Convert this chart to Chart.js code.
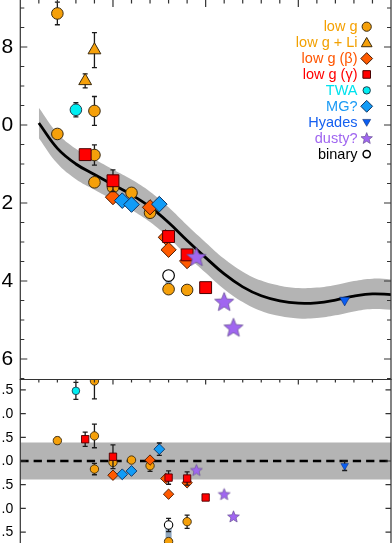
<!DOCTYPE html>
<html><head><meta charset="utf-8">
<script src="https://cdn.jsdelivr.net/npm/chart.js@4.4.1/dist/chart.umd.min.js"></script>
<style>
html,body{margin:0;padding:0;background:#fff;overflow:hidden;}
#wrap{position:relative;width:392px;height:543px;background:#fff;}
#c1{position:absolute;left:0;top:0;}
#c2{position:absolute;left:0;top:379px;}
</style></head><body>
<div id="wrap">
<canvas id="c1" width="392" height="380"></canvas>
<canvas id="c2" width="392" height="164"></canvas>
</div>
<script>
// ---------------- DATA ----------------
// tick labels (values; only the visible last part of each label is shown)
const topYLabels   = [8, 10, 12, 14, 16];
const residYLabels = [1.5, 1.0, 0.5, 0.0, -0.5, -1.0, -1.5];

// fitted relation (spectral-type index vs absolute magnitude)
const fitX   = [1, 2, 3, 4, 5, 6, 7, 8, 9, 10, 11, 12, 13, 14, 15, 16, 17, 18, 19, 20];
const fitMag = [9.95, 10.60, 11.00, 11.27, 11.53, 11.79, 12.10, 12.50, 12.96, 13.40,
                13.82, 14.15, 14.38, 14.51, 14.57, 14.56, 14.49, 14.39, 14.33, 14.35];
const fitScatter = 0.39;

// top panel: absolute magnitudes
const lowG_x    = [2, 2, 4, 4, 4, 5, 6, 7, 8, 9];
const lowG_mag  = [7.14, 10.23, 9.64, 10.77, 11.47, 11.60, 11.74, 12.25, 14.21, 14.23];
const lowG_err  = [0.29, 0, 0.37, 0.26, 0, 0, 0, 0, 0, 0];
const lowGLi_x   = [3.5, 4];
const lowGLi_mag = [8.87, 8.08];
const lowGLi_err = [0.18, 0.45];
const beta_x   = [5, 7, 7.85, 8, 9];
const beta_mag = [11.85, 12.11, 12.88, 13.20, 13.49];
const gamma_x   = [3.5, 5, 8, 9, 10];
const gamma_mag = [10.76, 11.43, 12.86, 13.33, 14.17];
const gamma_err = [0, 0.28, 0, 0, 0];
const twa_x   = [3];
const twa_mag = [9.61];
const twa_err = [0.18];
const mg_x   = [5.5, 6, 7.5];
const mg_mag = [11.94, 12.04, 12.03];
const hyades_x   = [17.5];
const hyades_mag = [14.49];
const dusty_x   = [9.5, 11, 11.5];
const dusty_mag = [13.38, 14.53, 15.19];
const binary_x   = [8];
const binary_mag = [13.86];
const binaryPair_x   = [8, 8];
const binaryPair_mag = [13.86, 14.21];

// bottom panel: residuals
const lowG_rx   = [2, 4, 4, 4, 5, 6, 7, 8, 9];
const lowG_res  = [0.43, 1.69, 0.53, -0.17, -0.03, 0.02, -0.10, -1.70, -1.28];
const lowG_rerr = [0.07, 0.38, 0.25, 0.12, 0, 0, 0.12, 0, 0.14];
const beta_rx  = [5, 7, 7.85, 8, 9];
const beta_res = [-0.30, 0.02, -0.37, -0.70, -0.46];
const gamma_rx   = [3.5, 5, 8, 9, 10];
const gamma_res  = [0.46, 0.09, -0.35, -0.37, -0.77];
const gamma_rerr = [0.15, 0.25, 0.14, 0.14, 0];
const twa_rx   = [3];
const twa_res  = [1.48];
const twa_rerr = [0.18];
const mg_rx   = [5.5, 6, 7.5];
const mg_res  = [-0.28, -0.21, 0.25];
const mg_rerr = [0, 0, 0.13];
const hyades_rx   = [17.5];
const hyades_res  = [-0.10];
const hyades_rerr = [0.10];
const dusty_rx  = [9.5, 11, 11.5];
const dusty_res = [-0.19, -0.70, -1.17];
const binary_rx   = [8];
const binary_res  = [-1.35];
const binary_rerr = [0.14];
const binaryPair_rx  = [8, 8];
const binaryPair_res = [-1.35, -1.70];

const legendLabels = ['low g', 'low g + Li', 'low g (\u03B2)', 'low g (\u03B3)', 'TWA', 'MG?', 'Hyades', 'dusty?', 'binary'];

// ---------------- STYLE ----------------
const FONT = "'Liberation Sans', Arial, Helvetica, sans-serif";
const AX = '#333';
const C = {
  lowG: '#f5a00a', beta: '#ff5a00', gamma: '#ff0000', twa: '#00eef2',
  mg: '#129cf7', hyades: '#0a5ef2', dusty: '#a066f0', band: '#b4b4b4', link: '#8ea6be'
};
const legendColors = ['#f5a000', '#f2a000', '#ff5500', '#ff0000', '#00e2ee', '#1a9af5', '#1560f0', '#a066f0', '#000000'];

function pts(xs, ys) { return xs.map((x, i) => ({ x: x, y: ys[i] })); }

function starImg(R, fill, stroke, lw) {
  const s = Math.ceil(2 * R + 4);
  const c = document.createElement('canvas');
  c.width = s; c.height = s;
  const g = c.getContext('2d');
  const cx = s / 2, cy = s / 2 + R * 0.08;
  g.beginPath();
  for (let i = 0; i < 10; i++) {
    const r = (i % 2) ? R * 0.44 : R;
    const a = -Math.PI / 2 + i * Math.PI / 5;
    g.lineTo(cx + r * Math.cos(a), cy + r * Math.sin(a));
  }
  g.closePath();
  g.fillStyle = fill; g.fill();
  g.lineWidth = lw; g.strokeStyle = stroke; g.stroke();
  return c;
}
const starTop = starImg(10, C.dusty, '#6a5296', 0.8);
const starBot = starImg(6.2, C.dusty, '#6a5296', 0.7);

function markers(xs, ys, errs, st, order) {
  return {
    data: pts(xs, ys), errs: errs, showLine: false, order: order, clip: 0,
    pointStyle: st.style, pointRadius: st.r, pointRotation: st.rot || 0,
    pointBackgroundColor: st.fill, pointBorderColor: st.edge,
    pointBorderWidth: st.bw === undefined ? 1 : st.bw
  };
}
function lineDs(xs, ys, opts) {
  return Object.assign({ data: pts(xs, ys), showLine: true, pointRadius: 0, borderWidth: 0, fill: false, tension: 0 }, opts);
}

// error bars, drawn just before each dataset's markers
const errPlugin = {
  id: 'errbars',
  beforeDatasetDraw(chart, args) {
    const ds = chart.data.datasets[args.index];
    if (!ds.errs) return;
    const { ctx, chartArea: a, scales: { x, y } } = chart;
    ctx.save();
    ctx.beginPath(); ctx.rect(a.left, a.top, a.right - a.left, a.bottom - a.top); ctx.clip();
    ctx.strokeStyle = '#1a1a1a'; ctx.lineWidth = 1.3;
    ctx.beginPath();
    ds.data.forEach((p, i) => {
      const e = ds.errs[i];
      if (!e) return;
      const px = x.getPixelForValue(p.x);
      const p1 = y.getPixelForValue(p.y - e), p2 = y.getPixelForValue(p.y + e);
      ctx.moveTo(px, p1); ctx.lineTo(px, p2);
      ctx.moveTo(px - 2.5, p1); ctx.lineTo(px + 2.5, p1);
      ctx.moveTo(px - 2.5, p2); ctx.lineTo(px + 2.5, p2);
    });
    ctx.stroke();
    ctx.restore();
  }
};

// frame, inward ticks and y tick labels (positions from the chart's own scales)
function framePlugin(cfg) {
  return {
    id: 'frame_' + cfg.name,
    afterDraw(chart) {
      const { ctx, chartArea: a, scales: { x, y } } = chart;
      ctx.save();
      ctx.strokeStyle = AX; ctx.lineWidth = 1.2;
      ctx.beginPath();
      ctx.moveTo(a.left, a.top - 2); ctx.lineTo(a.left, a.bottom + 2);
      ctx.moveTo(a.right, a.top - 2); ctx.lineTo(a.right, a.bottom + 2);
      if (cfg.topLine) { ctx.moveTo(a.left, a.top); ctx.lineTo(a.right, a.top); }
      for (let v = 1; v < 20; v++) {
        const px = x.getPixelForValue(v);
        const L = (v % 5 === 0) ? cfg.xMaj : cfg.xMin;
        ctx.moveTo(px, a.top); ctx.lineTo(px, a.top + L);
      }
      cfg.yTicks.forEach(t => {
        const py = y.getPixelForValue(t[0]);
        ctx.moveTo(a.left, py); ctx.lineTo(a.left + t[1], py);
        ctx.moveTo(a.right, py); ctx.lineTo(a.right - t[1], py);
      });
      ctx.stroke();
      ctx.fillStyle = '#000';
      ctx.font = cfg.fontSize + 'px ' + FONT;
      ctx.textAlign = 'right';
      ctx.textBaseline = 'middle';
      cfg.labels.forEach(v => {
        ctx.fillText(cfg.fmt(v), a.left - 7, y.getPixelForValue(v) + 0.5);
      });
      ctx.restore();
    }
  };
}

function drawShape(ctx, kind, x, y, s, fill, edge, lw) {
  ctx.beginPath();
  if (kind === 'circle') ctx.arc(x, y, s, 0, 2 * Math.PI);
  else if (kind === 'tri') { ctx.moveTo(x, y - s); ctx.lineTo(x + s * 0.866, y + s * 0.5); ctx.lineTo(x - s * 0.866, y + s * 0.5); ctx.closePath(); }
  else if (kind === 'tridown') { ctx.moveTo(x, y + s); ctx.lineTo(x + s * 0.866, y - s * 0.5); ctx.lineTo(x - s * 0.866, y - s * 0.5); ctx.closePath(); }
  else if (kind === 'diamond') { ctx.moveTo(x, y - s); ctx.lineTo(x + s, y); ctx.lineTo(x, y + s); ctx.lineTo(x - s, y); ctx.closePath(); }
  else if (kind === 'square') ctx.rect(x - s, y - s, 2 * s, 2 * s);
  else if (kind === 'star') {
    for (let i = 0; i < 10; i++) {
      const r = (i % 2) ? s * 0.44 : s;
      const a = -Math.PI / 2 + i * Math.PI / 5;
      ctx.lineTo(x + r * Math.cos(a), y + s * 0.08 + r * Math.sin(a));
    }
    ctx.closePath();
  }
  ctx.fillStyle = fill; ctx.fill();
  ctx.lineWidth = lw; ctx.strokeStyle = edge; ctx.stroke();
}

const legendMarks = [
  ['circle', 4.6, C.lowG, '#3a2a10', 1, 0],
  ['tri', 6.2, C.lowG, '#3a2a10', 1, 1],
  ['diamond', 5.9, C.beta, '#4a1a00', 1, 0],
  ['square', 3.8, C.gamma, '#4a0000', 1, 0],
  ['circle', 3.7, C.twa, '#204050', 1, 0],
  ['diamond', 5.9, C.mg, '#0a3060', 1, 0],
  ['tridown', 4.6, C.hyades, '#0a2a70', 0.6, -0.5],
  ['star', 6, C.dusty, '#6a5296', 0.7, 0],
  ['circle', 3.6, '#ffffff', '#000000', 1.5, 0]
];

const legendPlugin = {
  id: 'customLegend',
  afterDraw(chart) {
    const ctx = chart.ctx;
    ctx.save();
    ctx.font = '14.5px ' + FONT;
    ctx.textAlign = 'right';
    ctx.textBaseline = 'middle';
    legendLabels.forEach((lab, i) => {
      const yy = 26.7 + i * 15.92;
      ctx.fillStyle = legendColors[i];
      ctx.fillText(lab, 357.5, yy + 0.5);
      const m = legendMarks[i];
      drawShape(ctx, m[0], 366.7, yy + m[5], m[1], m[2], m[3], m[4]);
    });
    ctx.restore();
  }
};

function axisY(min, max, reverse) {
  return {
    type: 'linear', reverse: reverse, min: min, max: max, position: 'left',
    grid: { display: false, drawTicks: false }, border: { display: false },
    ticks: { display: false },
    afterFit: s => { s.width = 20.3; s.paddingTop = 0; s.paddingBottom = 0; }
  };
}

const common = {
  responsive: false, animation: false, devicePixelRatio: 1, events: [],
  plugins: { legend: { display: false }, tooltip: { enabled: false } }
};

// ---------------- TOP PANEL ----------------
const S = {
  lowG:   { style: 'circle', r: 5.8, fill: C.lowG, edge: '#3a2a10' },
  lowGLi: { style: 'triangle', r: 7.4, fill: C.lowG, edge: '#3a2a10' },
  beta:   { style: 'rectRot', r: 7.6, fill: C.beta, edge: '#4a1a00' },
  gamma:  { style: 'rect', r: 8.4, fill: C.gamma, edge: '#4a0000' },
  twa:    { style: 'circle', r: 5.8, fill: C.twa, edge: '#204050' },
  mg:     { style: 'rectRot', r: 7.8, fill: C.mg, edge: '#0a3060' },
  hyades: { style: 'triangle', r: 5.8, rot: 180, fill: C.hyades, edge: '#0a2a70', bw: 0.6 },
  dusty:  { style: starTop, r: 9, fill: C.dusty, edge: C.dusty },
  binary: { style: 'circle', r: 5.8, fill: '#ffffff', edge: '#000000', bw: 1.2 }
};
const bandUp = fitMag.map(m => m - fitScatter);
const bandLo = fitMag.map(m => m + fitScatter);

const topMinorTicks = [];
for (let v = 7; v <= 16.5; v += 0.5) topMinorTicks.push([v, (v % 2 === 0) ? 7 : 4]);

new Chart(document.getElementById('c1'), {
  type: 'line',
  data: {
    datasets: [
      markers(binary_x, binary_mag, null, S.binary, 1),
      markers(dusty_x, dusty_mag, null, S.dusty, 2),
      markers(hyades_x, hyades_mag, null, S.hyades, 3),
      markers(mg_x, mg_mag, null, S.mg, 4),
      markers(twa_x, twa_mag, twa_err, S.twa, 5),
      markers(gamma_x, gamma_mag, gamma_err, S.gamma, 6),
      markers(beta_x, beta_mag, null, S.beta, 7),
      markers(lowGLi_x, lowGLi_mag, lowGLi_err, S.lowGLi, 8),
      markers(lowG_x, lowG_mag, lowG_err, S.lowG, 9),
      lineDs(binaryPair_x, binaryPair_mag, { borderColor: C.link, borderWidth: 6, order: 50 }),
      lineDs(fitX, fitMag, { borderColor: '#000', borderWidth: 2.8, tension: 0.4, order: 60 }),
      lineDs(fitX, bandUp, { borderWidth: 0, tension: 0.4, fill: '+1', backgroundColor: C.band, order: 70 }),
      lineDs(fitX, bandLo, { borderWidth: 0, tension: 0.4, order: 71 })
    ]
  },
  options: Object.assign({}, common, {
    layout: { autoPadding: false, padding: { left: 0, right: 1, top: 0, bottom: 0.5 } },
    scales: {
      x: { type: 'linear', min: 0, max: 20, display: false },
      y: axisY(6.795, 16.526, true)
    }
  }),
  plugins: [errPlugin, framePlugin({
    name: 'top', topLine: false, xMaj: 7, xMin: 3.5, yTicks: topMinorTicks,
    labels: topYLabels, fontSize: 21, fmt: v => String(v).slice(-1)
  }), legendPlugin]
});

// ---------------- RESIDUAL PANEL ----------------
const R = {
  lowG:   { style: 'circle', r: 4.2, fill: C.lowG, edge: '#3a2a10', bw: 0.9 },
  beta:   { style: 'rectRot', r: 5.2, fill: C.beta, edge: '#4a1a00', bw: 0.9 },
  gamma:  { style: 'rect', r: 5.2, fill: C.gamma, edge: '#4a0000', bw: 0.9 },
  twa:    { style: 'circle', r: 3.8, fill: C.twa, edge: '#204050', bw: 0.9 },
  mg:     { style: 'rectRot', r: 5.4, fill: C.mg, edge: '#0a3060', bw: 0.9 },
  hyades: { style: 'triangle', r: 4.4, rot: 180, fill: C.hyades, edge: '#0a2a70', bw: 0.5 },
  dusty:  { style: starBot, r: 5, fill: C.dusty, edge: C.dusty },
  binary: { style: 'circle', r: 4.2, fill: '#ffffff', edge: '#000000', bw: 1.1 }
};
const zeroX = [0, 20];
const zeroY = [0, 0];
const bandTopY = [fitScatter, fitScatter];
const bandBotY = [-fitScatter, -fitScatter];

new Chart(document.getElementById('c2'), {
  type: 'line',
  data: {
    datasets: [
      markers(binary_rx, binary_res, binary_rerr, R.binary, 1),
      markers(dusty_rx, dusty_res, null, R.dusty, 2),
      markers(hyades_rx, hyades_res, hyades_rerr, R.hyades, 3),
      markers(mg_rx, mg_res, mg_rerr, R.mg, 4),
      markers(twa_rx, twa_res, twa_rerr, R.twa, 5),
      markers(gamma_rx, gamma_res, gamma_rerr, R.gamma, 6),
      markers(beta_rx, beta_res, null, R.beta, 7),
      markers(lowG_rx, lowG_res, lowG_rerr, R.lowG, 9),
      lineDs(binaryPair_rx, binaryPair_res, { borderColor: C.link, borderWidth: 6, order: 50 }),
      lineDs(zeroX, zeroY, { borderColor: '#000', borderWidth: 2.5, borderDash: [8.3, 5], order: 60 }),
      lineDs(zeroX, bandTopY, { borderWidth: 0, fill: '+1', backgroundColor: C.band, order: 70 }),
      lineDs(zeroX, bandBotY, { borderWidth: 0, order: 71 })
    ]
  },
  options: Object.assign({}, common, {
    layout: { autoPadding: false, padding: { left: 0, right: 1, top: 0.5, bottom: 0 } },
    scales: {
      x: { type: 'linear', min: 0, max: 20, display: false },
      y: axisY(-1.73, 1.72, false)
    }
  }),
  plugins: [errPlugin, framePlugin({
    name: 'bot', topLine: true, xMaj: 5, xMin: 3,
    yTicks: residYLabels.map(v => [v, 5.5]),
    labels: residYLabels, fontSize: 14,
    fmt: v => { const s = Math.abs(v).toFixed(1); return s.slice(s.indexOf('.')); }
  })]
});
</script>
</body></html>
